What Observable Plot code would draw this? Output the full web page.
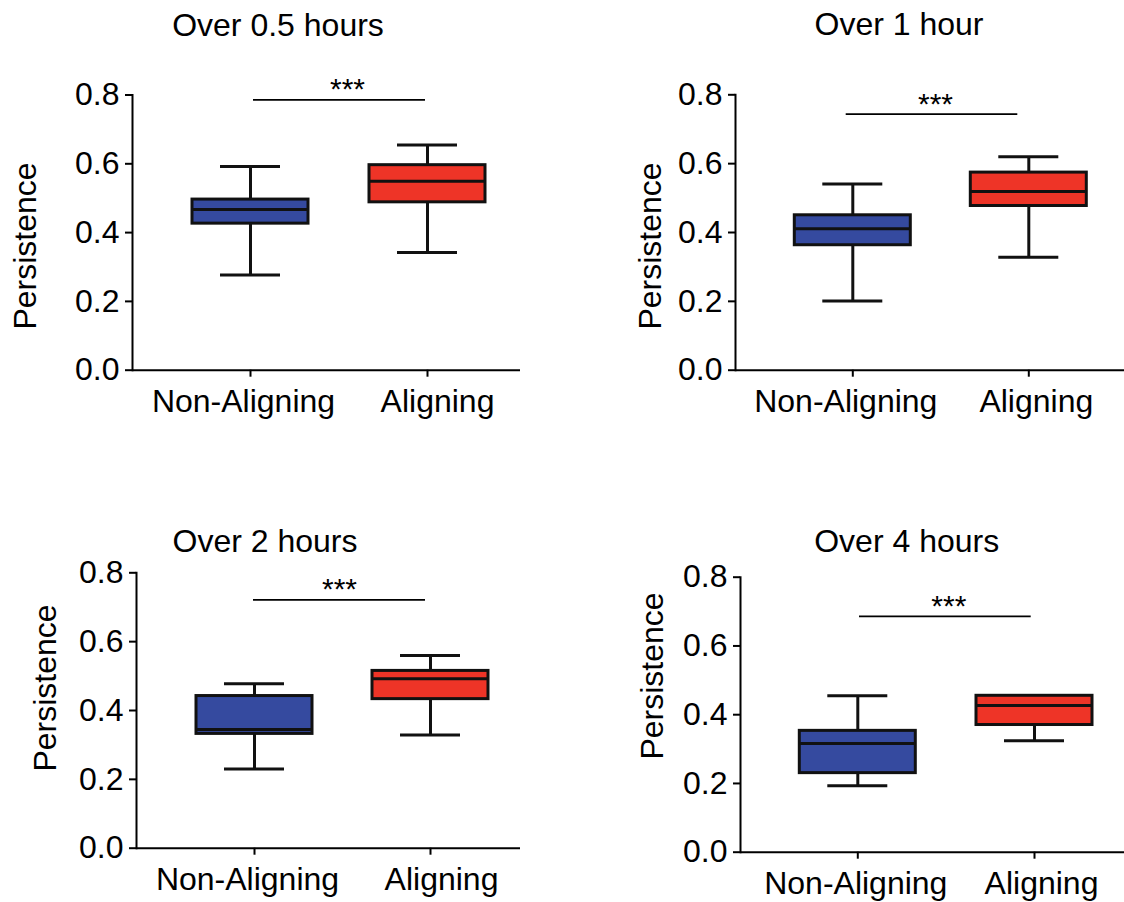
<!DOCTYPE html>
<html><head><meta charset="utf-8">
<script src="https://cdn.jsdelivr.net/npm/d3@7"></script>
<script src="https://cdn.jsdelivr.net/npm/@observablehq/plot@0.6"></script>
<style>
body{margin:0;background:#fff;}
#wrap{position:relative;width:1124px;height:902px;overflow:hidden;font-family:"Liberation Sans",Arial,sans-serif;color:#000;}
.panel{position:absolute;}
.title,.ylab{position:absolute;white-space:nowrap;font-size:32px;line-height:1;}
.title{transform:translate(-50%,-50%);}
.ylab{transform:translate(-50%,-50%) rotate(-90deg);}
</style></head><body><div id="wrap"></div>
<script>
// ---- data ----
const categories = ["Non-Aligning", "Aligning"];
const panelTitles = ["Over 0.5 hours", "Over 1 hour", "Over 2 hours", "Over 4 hours"];
const yLabel = "Persistence";
const yTicks = [0, 0.2, 0.4, 0.6, 0.8];
const whiskerLow  = [[0.277, 0.342], [0.201, 0.328], [0.230, 0.329], [0.193, 0.324]];
const q1          = [[0.426, 0.488], [0.363, 0.477], [0.332, 0.433], [0.230, 0.370]];
const median      = [[0.467, 0.549], [0.411, 0.519], [0.345, 0.492], [0.316, 0.427]];
const q3          = [[0.496, 0.596], [0.450, 0.574], [0.442, 0.515], [0.353, 0.455]];
const whiskerHigh = [[0.592, 0.655], [0.541, 0.620], [0.478, 0.560], [0.455, 0.455]];
const sigLevel = [0.786, 0.744, 0.7215, 0.686];
const sigLabel = ["***", "***", "***", "***"];
const boxColors = ["#354a9f", "#ee3427"];

// ---- layout (pixels) ----
const boxWidth = 116, capWidth = 60;
const layout = [
  {left:0,   top:0,   width:530, height:430, axisX:132, axisEnd:520, frameTop:94.5, frameBottom:369.7, centers:[250,427],     labelDx:[-7,10],  sigL:253,   sigR:425,   starX:347,   titleX:278,   titleY:24.5, labX:25,    labY:245.7},
  {left:600, top:0,   width:524, height:430, axisX:135, axisEnd:524, frameTop:94.3, frameBottom:369.7, centers:[252.3,428.3], labelDx:[-7,7.5], sigL:245.7, sigR:417.3, starX:335,   titleX:899,   titleY:24,   labX:650,   labY:245.7},
  {left:0,   top:480, width:530, height:422, axisX:136, axisEnd:520, frameTop:92.3, frameBottom:367.7, centers:[254,430],     labelDx:[-7,11],  sigL:253,   sigR:425,   starX:339,   titleX:265,   titleY:541,  labX:45,    labY:688},
  {left:600, top:480, width:524, height:422, axisX:140, axisEnd:524, frameTop:96.7, frameBottom:371.7, centers:[257.3,434],   labelDx:[-2,7],   sigL:259,   sigR:430.7, starX:348.3, titleX:906.7, titleY:540.5, labX:651.7, labY:676}
];

const wrap = document.getElementById("wrap");
const font = '"Liberation Sans", Arial, sans-serif';

layout.forEach((L, k) => {
  const rows = categories.map((c, i) => ({
    cat: c, lo: whiskerLow[k][i], q1: q1[k][i], med: median[k][i], q3: q3[k][i], hi: whiskerHigh[k][i]
  }));
  const s = L.centers[1] - L.centers[0];
  const p = 1 - boxWidth / s;
  const r0 = L.centers[0] - s * (1 + p) / 2;
  const r1 = r0 + s * (2 + p);
  const capInset = (boxWidth - capWidth) / 2;
  const bandStart0 = L.centers[0] - boxWidth / 2;
  const bandEnd1 = L.centers[1] + boxWidth / 2;
  const sig = [{y: sigLevel[k], label: sigLabel[k]}];

  const svg = Plot.plot({
    width: L.width, height: L.height,
    marginLeft: L.axisX, marginRight: L.width - L.axisEnd,
    marginTop: L.frameTop, marginBottom: L.height - L.frameBottom,
    style: {fontFamily: font, fontSize: "32px", color: "#000", background: "transparent", overflow: "visible"},
    x: {type: "band", domain: categories, range: [r0, r1], padding: p, round: false},
    y: {domain: [0, 0.8], range: [L.frameBottom, L.frameTop]},
    color: {domain: categories, range: boxColors},
    marks: [
      Plot.axisY({ticks: yTicks, tickFormat: d3.format(".1f"), tickSize: 7, tickPadding: 6, fontSize: 32, strokeWidth: 2, label: null}),
      Plot.axisX({tickSize: 7, tickFormat: () => "", strokeWidth: 2, label: null}),
      ...categories.map((c, i) => Plot.axisX({ticks: [c], tickSize: 0, tickPadding: 19, fontSize: 32, dx: L.labelDx[i], label: null})),
      Plot.frame({anchor: "left", strokeWidth: 2}),
      Plot.ruleY([0], {strokeWidth: 2}),
      Plot.ruleX(rows, {x: "cat", y1: "lo", y2: "hi", strokeWidth: 3, stroke: "#111"}),
      Plot.tickY(rows, {x: "cat", y: "lo", insetLeft: capInset, insetRight: capInset, strokeWidth: 3, stroke: "#111"}),
      Plot.tickY(rows, {x: "cat", y: "hi", insetLeft: capInset, insetRight: capInset, strokeWidth: 3, stroke: "#111"}),
      Plot.barY(rows, {x: "cat", y1: "q1", y2: "q3", fill: "cat", stroke: "#111", strokeWidth: 3}),
      Plot.tickY(rows, {x: "cat", y: "med", strokeWidth: 3, stroke: "#111"}),
      Plot.ruleY(sig, {x1: () => categories[0], x2: () => categories[1], y: "y",
        insetLeft: L.sigL - bandStart0, insetRight: bandEnd1 - L.sigR, strokeWidth: 1.7}),
      Plot.text(sig, {x: () => categories[0], y: "y", text: "label", dx: L.starX - L.centers[0], dy: -10,
        fontSize: 30, lineAnchor: "middle", fill: "#000"})
    ]
  });
  svg.classList.add("panel");
  svg.style.left = L.left + "px";
  svg.style.top = L.top + "px";
  svg.style.position = "absolute";
  wrap.appendChild(svg);

  const t = document.createElement("div");
  t.className = "title";
  t.textContent = panelTitles[k];
  t.style.left = L.titleX + "px";
  t.style.top = L.titleY + "px";
  wrap.appendChild(t);

  const yl = document.createElement("div");
  yl.className = "ylab";
  yl.textContent = yLabel;
  yl.style.left = L.labX + "px";
  yl.style.top = L.labY + "px";
  wrap.appendChild(yl);
});
</script></body></html>
